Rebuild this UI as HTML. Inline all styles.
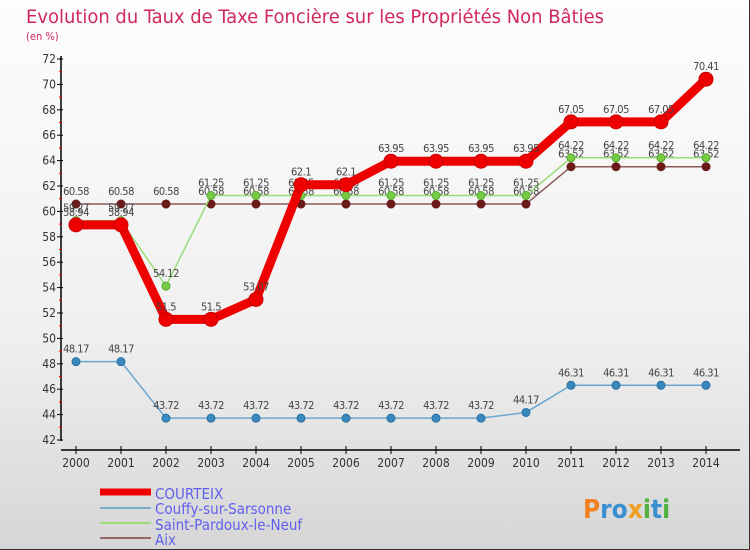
<!DOCTYPE html>
<html><head><meta charset="utf-8"><style>
body{margin:0}
#c{width:750px;height:550px;position:relative;background:linear-gradient(#fdfdfd,#f0f0f0 60%,#d6d6d6);font-family:"DejaVu Sans Condensed","Liberation Sans",sans-serif;overflow:hidden;box-sizing:border-box;border-right:1px solid #333;border-bottom:1px solid #333}
</style></head><body>
<div id="c">
<svg id="s" width="750" height="550" style="position:absolute;left:0;top:0">
<text x="26" y="23" font-size="19" fill="#d0285a" textLength="578" lengthAdjust="spacingAndGlyphs">Evolution du Taux de Taxe Foncière sur les Propriétés Non Bâties</text>
<text x="26" y="40" font-size="11" fill="#d0285a">(en %)</text>
<g id="axes"></g><g id="series"></g>
<g id="legend">
<line x1="100" y1="492" x2="151" y2="492" stroke="#e00" stroke-width="7"/>
<text x="155" y="499" font-size="15" fill="#6060ee">COURTEIX</text>
<line x1="100" y1="508" x2="151" y2="508" stroke="#7aaed0" stroke-width="2"/>
<text x="155" y="514" font-size="15" fill="#6060ee">Couffy-sur-Sarsonne</text>
<line x1="100" y1="523" x2="151" y2="523" stroke="#99dd77" stroke-width="2"/>
<text x="155" y="530" font-size="15" fill="#6060ee">Saint-Pardoux-le-Neuf</text>
<line x1="100" y1="538" x2="151" y2="538" stroke="#996666" stroke-width="2"/>
<text x="155" y="545" font-size="15" fill="#6060ee">Aix</text>
</g>
<text x="583" y="518" font-size="26" font-weight="bold"><tspan fill="#f08020">P</tspan><tspan fill="#3a8fd0">ro</tspan><tspan fill="#f0a020">x</tspan><tspan fill="#50b040">i</tspan><tspan fill="#3a8fd0">t</tspan><tspan fill="#50b040">i</tspan></text>
</svg>
</div>
<script>
const years=[2000,2001,2002,2003,2004,2005,2006,2007,2008,2009,2010,2011,2012,2013,2014];
const courteix=[58.94,58.94,51.5,51.5,53.07,62.1,62.1,63.95,63.95,63.95,63.95,67.05,67.05,67.05,70.41];
const couffy=[48.17,48.17,43.72,43.72,43.72,43.72,43.72,43.72,43.72,43.72,44.17,46.31,46.31,46.31,46.31];
const stpardoux=[59.27,59.27,54.12,61.25,61.25,61.25,61.25,61.25,61.25,61.25,61.25,64.22,64.22,64.22,64.22];
const aix=[60.58,60.58,60.58,60.58,60.58,60.58,60.58,60.58,60.58,60.58,60.58,63.52,63.52,63.52,63.52];
const yTicks=[42,44,46,48,50,52,54,56,58,60,62,64,66,68,70,72];
const NS="http://www.w3.org/2000/svg";
const X=i=>76+i*45;
const Y=v=>440-(v-42)*(381/30);
function mk(t,a,p){const e=document.createElementNS(NS,t);for(const k in a)e.setAttribute(k,a[k]);p.appendChild(e);return e;}
const ax=document.getElementById('axes');
let e=mk('line',{x1:61,y1:56,x2:61,y2:441,stroke:'#000','stroke-width':1.5},ax);


e=mk('line',{x1:61,y1:450,x2:740,y2:450,stroke:'#000','stroke-width':1.5},ax);


yTicks.forEach(v=>{
 mk('line',{x1:57,y1:Y(v),x2:63,y2:Y(v),stroke:'#000'},ax);
 if(v<72)mk('line',{x1:59,y1:Y(v+1),x2:62,y2:Y(v+1),stroke:'#e00'},ax);
 const t=mk('text',{x:56,y:Y(v)+4,'font-size':12,fill:'#333','text-anchor':'end'},ax);
 t.textContent=v;
 
 
});
years.forEach((y,i)=>{
 mk('line',{x1:X(i),y1:446,x2:X(i),y2:454,stroke:'#000'},ax);
 const t=mk('text',{x:X(i),y:467,'font-size':12,fill:'#333','text-anchor':'middle'},ax);
 t.textContent=y;
 
 
});
const sg=document.getElementById('series');
function draw(vals,color,w,r,dot,name,dotStroke){
 const g=mk('g',{},sg);
 
 
 const pl=mk('polyline',{points:vals.map((v,i)=>X(i)+','+Y(v)).join(' '),fill:'none',stroke:color,'stroke-width':w,'stroke-linejoin':'round'},g);
 
 
 vals.forEach((v,i)=>{
  const c=mk('circle',{cx:X(i),cy:Y(v),r:r,fill:dot,stroke:dotStroke,'stroke-width':1},g);
  
  
  const t=mk('text',{x:X(i),y:Y(v)-9,'font-size':11,fill:'#444','text-anchor':'middle','letter-spacing':'-0.5'},g);
  t.textContent=v;
  
  
 });
}
draw(aix,'#8b5a5a',1.5,4,'#6b1a1a','aix','#6b1a1a');
draw(stpardoux,'#99dd77',1.5,4,'#77cc44','saint-pardoux','#55aa33');
draw(couffy,'#6aa6d0',1.5,4,'#3a88c0','couffy','#2a70a0');
draw(courteix,'#ee0000',9,7,'#ee0000','courteix','#cc0000');
</script>
</body></html>
